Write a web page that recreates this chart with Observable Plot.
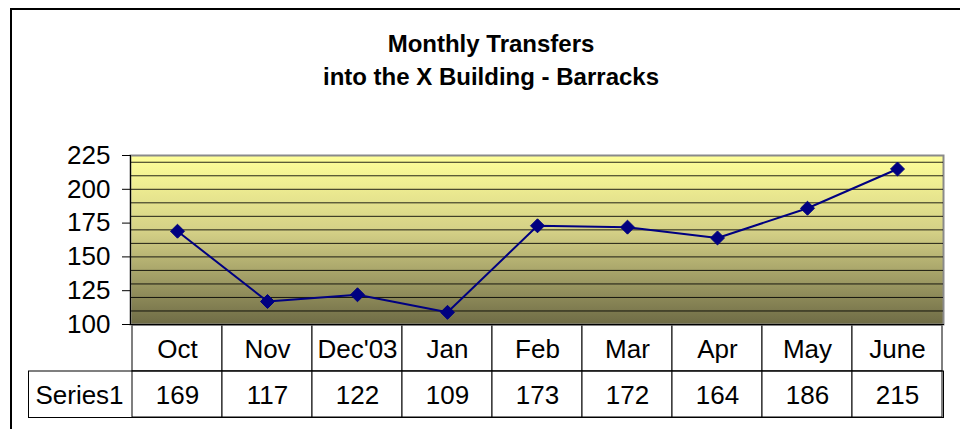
<!DOCTYPE html>
<html>
<head>
<meta charset="utf-8">
<script src="https://cdn.jsdelivr.net/npm/d3@7"></script>
<script src="https://cdn.jsdelivr.net/npm/@observablehq/plot@0.6"></script>
<style>
  html, body { margin: 0; padding: 0; background: #fff; overflow: hidden; }
  #wrap { position: relative; width: 960px; height: 429px; overflow: hidden; font-family: "Liberation Sans", Arial, sans-serif; }
  #border { position: absolute; left: 10px; top: 8px; width: 2000px; height: 2000px; border-left: 2px solid #000; border-top: 2px solid #000; box-sizing: border-box; }
  #title { position: absolute; left: 0; width: 982px; top: 27px; text-align: center; font-weight: bold; font-size: 24px; line-height: 33px; color: #000; }
  #chart { position: absolute; left: 0; top: 0; }
  #table { position: absolute; left: 0; top: 324px; }
</style>
</head>
<body>
<div id="wrap">
  <div id="border"></div>
  <div id="table"></div>
  <div id="chart"></div>
  <div id="title">Monthly Transfers<br>into the X Building - Barracks</div>
</div>
<script>
const months = ["Oct", "Nov", "Dec'03", "Jan", "Feb", "Mar", "Apr", "May", "June"];
const series1 = [169, 117, 122, 109, 173, 172, 164, 186, 215];
const seriesName = "Series1";
const yTicks = [100, 125, 150, 175, 200, 225];
const gridValues = [110, 120, 130, 140, 150, 160, 170, 180, 190, 200, 210, 220];
const tableRows = ["cat", "val"];

const rows = months.map((m, i) => ({month: m, value: series1[i]}));
const cells = tableRows.flatMap(r => months.map(m => ({month: m, row: r})));

const fontStyle = {fontFamily: "'Liberation Sans', Arial, sans-serif", fontSize: "26px", color: "#000", background: "transparent", overflow: "visible"};

const chart = Plot.plot({
  width: 960,
  height: 344,
  marginTop: 155,
  marginBottom: 20,
  marginLeft: 130,
  marginRight: 17,
  style: fontStyle,
  x: {type: "band", domain: months, padding: 0, axis: null},
  y: {domain: [100, 225], axis: null, label: null},
  marks: [
    Plot.frame({fill: "url(#bgGrad)", stroke: "#8a8a8a", strokeWidth: 2}),
    Plot.ruleY(gridValues, {stroke: "#000", strokeOpacity: 0.85, strokeWidth: 1}),
    Plot.frame({anchor: "left", stroke: "#000", strokeWidth: 1}),
    Plot.frame({anchor: "bottom", stroke: "#000", strokeWidth: 1}),
    Plot.axisY({ticks: yTicks, tickSize: 8, tickPadding: 12, tickFormat: d => String(d), fontSize: 26, stroke: "#000", label: null}),
    Plot.line(rows, {x: "month", y: "value", stroke: "#000080", strokeWidth: 2}),
    Plot.dot(rows, {x: "month", y: "value", symbol: "diamond2", r: 6.3, fill: "#000080", stroke: "#000080", strokeWidth: 1})
  ]
});

// gradient definition for the plot-area fill
const svgNS = "http://www.w3.org/2000/svg";
const svgEl = chart.tagName.toLowerCase() === "svg" ? chart : chart.querySelector("svg");
const defs = document.createElementNS(svgNS, "defs");
const grad = document.createElementNS(svgNS, "linearGradient");
grad.setAttribute("id", "bgGrad");
grad.setAttribute("x1", "0"); grad.setAttribute("y1", "0");
grad.setAttribute("x2", "0"); grad.setAttribute("y2", "1");
[["0%", "#FFFF99"], ["45%", "#D4D086"], ["100%", "#6E6B45"]].forEach(([o, c]) => {
  const s = document.createElementNS(svgNS, "stop");
  s.setAttribute("offset", o); s.setAttribute("stop-color", c);
  grad.appendChild(s);
});
defs.appendChild(grad);
svgEl.insertBefore(defs, svgEl.firstChild);
document.getElementById("chart").appendChild(chart);

const table = Plot.plot({
  width: 960,
  height: 105,
  marginTop: 0,
  marginBottom: 12,
  marginLeft: 130,
  marginRight: 17,
  style: fontStyle,
  x: {type: "band", domain: months, padding: 0, axis: null},
  y: {type: "band", domain: tableRows, padding: 0, axis: null},
  marks: [
    Plot.cell(cells, {x: "month", y: "row", fill: "white", stroke: "#000", strokeWidth: 1}),
    Plot.frame({stroke: "#000", strokeWidth: 1, insetTop: 46.5, insetLeft: -102}),
    Plot.text(rows, {x: "month", y: () => "cat", text: "month", fontSize: 26, fill: "#000", dy: 1}),
    Plot.text(rows, {x: "month", y: () => "val", text: d => String(d.value), fontSize: 26, fill: "#000", dy: 1}),
    Plot.text([seriesName], {frameAnchor: "bottom-left", dx: -51, dy: -22, text: d => d, textAnchor: "middle", lineAnchor: "middle", fontSize: 26, fill: "#000"})
  ]
});
document.getElementById("table").appendChild(table);
</script>
</body>
</html>
